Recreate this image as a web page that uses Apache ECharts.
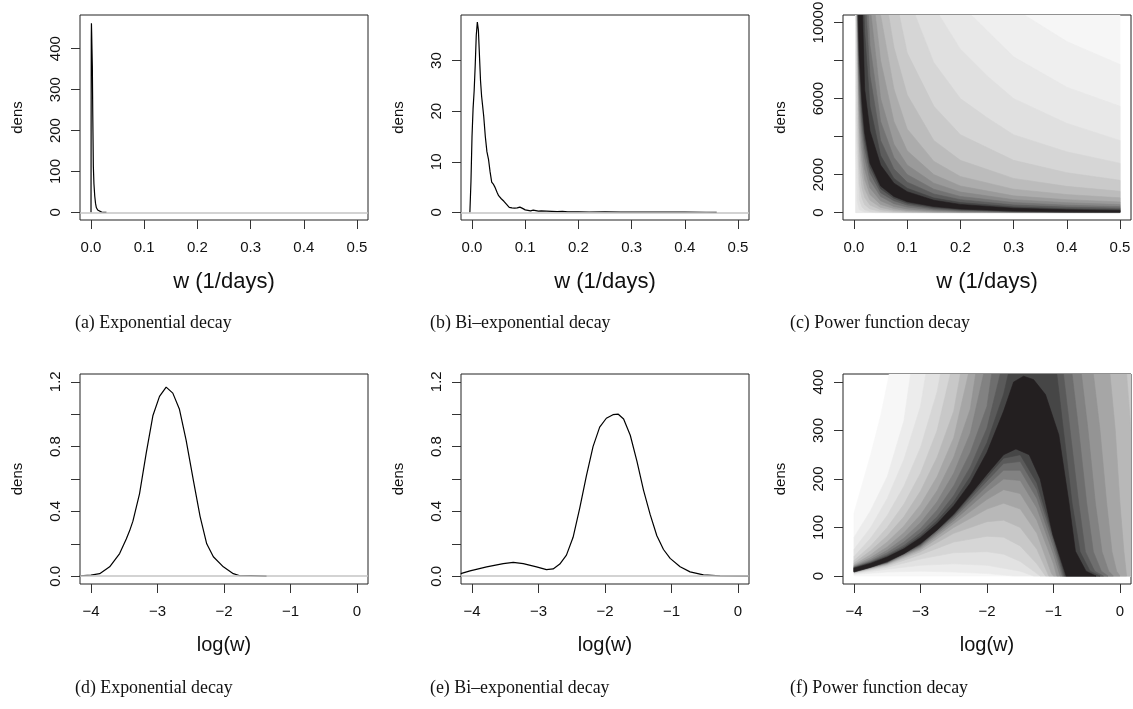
<!DOCTYPE html>
<html>
<head>
<meta charset="utf-8">
<title>Decay weight densities</title>
<script src="https://cdn.jsdelivr.net/npm/echarts@6/dist/echarts.min.js"></script>
<style>
  html, body { margin: 0; padding: 0; background: #fff; }
  #chart { width: 1133px; height: 709px; }
</style>
</head>
<body>
<div id="chart"></div>
<script>
// (a) exponential decay: density of w
const expW = [0, 0.0002, 0.0005, 0.0008, 0.0012, 0.0018, 0.0025, 0.0033, 0.0044, 0.0055, 0.007, 0.0085, 0.01, 0.0125, 0.015, 0.02, 0.024, 0.029]
const expDens = [0, 200, 420, 462, 440, 400, 357, 240, 112, 70, 40, 22, 12, 6, 3, 0.8, 0.3, 0]

// (b) bi-exponential decay: density of w
const biW = [-0.004, -0.002, 0, 0.002, 0.004, 0.006, 0.008, 0.01, 0.012, 0.014, 0.016, 0.018, 0.02, 0.022, 0.025, 0.028, 0.031, 0.034, 0.037, 0.04, 0.043, 0.047, 0.05, 0.055, 0.06, 0.065, 0.07, 0.075, 0.08, 0.085, 0.09, 0.095, 0.1, 0.105, 0.11, 0.115, 0.12, 0.125, 0.13, 0.14, 0.15, 0.16, 0.17, 0.18, 0.2, 0.22, 0.25, 0.28, 0.3, 0.35, 0.4, 0.44, 0.46]
const biDens = [0, 6, 15, 20.5, 24, 29, 35, 37.6, 36, 31, 26, 23, 21, 19, 15, 12, 10.5, 8, 6, 5.6, 5, 4, 3.3, 2.7, 2.2, 1.6, 1.0, 0.9, 0.85, 0.9, 1.05, 0.8, 0.5, 0.4, 0.3, 0.45, 0.35, 0.25, 0.3, 0.25, 0.2, 0.15, 0.2, 0.12, 0.1, 0.08, 0.12, 0.06, 0.08, 0.05, 0.04, 0.03, 0.02]

// (d) exponential decay: density of log(w)
const logExpW = [-4.17, -4.0, -3.87, -3.72, -3.57, -3.47, -3.42, -3.37, -3.27, -3.17, -3.07, -2.97, -2.87, -2.77, -2.67, -2.57, -2.46, -2.36, -2.26, -2.16, -2.01, -1.86, -1.76, -1.6, -1.36]
const logExpDens = [0.003, 0.007, 0.016, 0.058, 0.14, 0.23, 0.28, 0.34, 0.51, 0.76, 0.99, 1.11, 1.167, 1.13, 1.03, 0.84, 0.59, 0.37, 0.2, 0.12, 0.058, 0.016, 0.003, 0.004, 0]

// (e) bi-exponential decay: density of log(w)
const logBiW = [-4.17, -4.03, -3.78, -3.53, -3.38, -3.23, -3.03, -2.88, -2.78, -2.68, -2.58, -2.48, -2.38, -2.28, -2.18, -2.08, -1.98, -1.88, -1.8, -1.72, -1.62, -1.52, -1.42, -1.32, -1.22, -1.12, -1.02, -0.87, -0.72, -0.52, -0.27, 0.166]
const logBiDens = [0.016, 0.033, 0.058, 0.078, 0.085, 0.078, 0.058, 0.041, 0.045, 0.075, 0.13, 0.24, 0.42, 0.62, 0.8, 0.92, 0.975, 0.997, 1.0, 0.97, 0.87, 0.71, 0.53, 0.38, 0.25, 0.165, 0.11, 0.058, 0.027, 0.008, 0.002, 0]

// (c) power function decay: filled density levels, lightest first, core last
const powerShades = ['#f6f6f6', '#efefef', '#e8e8e8', '#e0e0e0', '#d6d6d6', '#cacaca', '#bcbcbc', '#acacac', '#9a9a9a', '#888888', '#737373', '#5c5c5c', '#444444', '#231f20']
const powerUpper = [
  [[0.003, 10400], [0.5, 10400]],
  [[0.32, 10400], [0.4, 9000], [0.5, 7800]],
  [[0.22, 10400], [0.3, 8200], [0.4, 6600], [0.5, 5600]],
  [[0.16, 10400], [0.2, 8600], [0.25, 7200], [0.3, 6000], [0.4, 4700], [0.5, 3800]],
  [[0.115, 10400], [0.15, 7900], [0.2, 6000], [0.25, 5000], [0.3, 4100], [0.4, 3200], [0.5, 2600]],
  [[0.085, 10400], [0.1, 8400], [0.15, 5600], [0.2, 4100], [0.3, 2750], [0.4, 2100], [0.5, 1700]],
  [[0.065, 10400], [0.075, 8700], [0.1, 6200], [0.15, 3800], [0.2, 2750], [0.3, 1800], [0.4, 1380], [0.5, 1120]],
  [[0.05, 10400], [0.075, 6500], [0.1, 4400], [0.15, 2700], [0.2, 1900], [0.3, 1230], [0.4, 950], [0.5, 780]],
  [[0.04, 10400], [0.05, 8000], [0.075, 4800], [0.1, 3250], [0.15, 2000], [0.2, 1400], [0.3, 880], [0.4, 680], [0.5, 560]],
  [[0.032, 10400], [0.05, 6000], [0.075, 3600], [0.1, 2500], [0.15, 1550], [0.2, 1080], [0.3, 680], [0.4, 520], [0.5, 420]],
  [[0.027, 10400], [0.03, 8800], [0.05, 4800], [0.075, 2900], [0.1, 2000], [0.15, 1230], [0.2, 850], [0.3, 530], [0.4, 390], [0.5, 315]],
  [[0.023, 10400], [0.03, 7200], [0.05, 3800], [0.075, 2300], [0.1, 1600], [0.15, 980], [0.2, 680], [0.3, 400], [0.4, 290], [0.5, 235]],
  [[0.019, 10400], [0.02, 9500], [0.03, 5600], [0.05, 3000], [0.075, 1800], [0.1, 1280], [0.15, 770], [0.2, 530], [0.3, 300], [0.4, 200], [0.5, 160]],
  [[0.016, 10400], [0.02, 6500], [0.03, 4300], [0.05, 2500], [0.075, 1550], [0.1, 1100], [0.15, 650], [0.2, 430], [0.3, 230], [0.4, 150], [0.5, 110]]
]
const powerLower = [
  [[0.003, 10400], [0.003, 0], [0.5, 0]],
  [[0.0032, 10400], [0.0032, 0], [0.5, 0]],
  [[0.0035, 10400], [0.0035, 0], [0.5, 0]],
  [[0.0038, 10400], [0.004, 3000], [0.006, 600], [0.01, 150], [0.02, 30], [0.04, 0], [0.5, 0]],
  [[0.004, 10400], [0.005, 4000], [0.01, 700], [0.015, 300], [0.02, 150], [0.03, 60], [0.05, 15], [0.07, 0], [0.5, 0]],
  [[0.0045, 10400], [0.006, 5000], [0.01, 1500], [0.015, 750], [0.02, 420], [0.03, 190], [0.05, 60], [0.075, 20], [0.1, 5], [0.15, 0], [0.5, 0]],
  [[0.005, 10400], [0.01, 2500], [0.015, 1300], [0.02, 800], [0.03, 400], [0.05, 150], [0.075, 60], [0.1, 25], [0.15, 8], [0.2, 2], [0.3, 0], [0.5, 0]],
  [[0.0055, 10400], [0.01, 3500], [0.015, 2000], [0.02, 1250], [0.03, 650], [0.05, 270], [0.075, 120], [0.1, 60], [0.15, 22], [0.2, 10], [0.3, 3], [0.5, 0]],
  [[0.006, 10400], [0.01, 4500], [0.015, 2700], [0.02, 1750], [0.03, 950], [0.05, 430], [0.075, 210], [0.1, 110], [0.15, 45], [0.2, 22], [0.3, 7], [0.5, 2]],
  [[0.0065, 10400], [0.01, 5400], [0.015, 3400], [0.02, 2300], [0.03, 1300], [0.05, 620], [0.075, 320], [0.1, 190], [0.15, 85], [0.2, 45], [0.3, 15], [0.4, 7], [0.5, 4]],
  [[0.007, 10400], [0.01, 6200], [0.015, 4100], [0.02, 2900], [0.03, 1700], [0.05, 850], [0.075, 470], [0.1, 290], [0.15, 140], [0.2, 75], [0.3, 28], [0.4, 13], [0.5, 8]],
  [[0.0073, 10400], [0.01, 7000], [0.015, 4700], [0.02, 3400], [0.03, 2100], [0.05, 1050], [0.075, 620], [0.1, 400], [0.15, 200], [0.2, 115], [0.3, 45], [0.4, 22], [0.5, 13]],
  [[0.0076, 10400], [0.01, 7700], [0.015, 5300], [0.02, 3850], [0.03, 2400], [0.05, 1250], [0.075, 750], [0.1, 490], [0.15, 265], [0.2, 155], [0.3, 62], [0.4, 30], [0.5, 18]],
  [[0.008, 10400], [0.01, 8300], [0.015, 5800], [0.02, 4200], [0.03, 2600], [0.05, 1400], [0.075, 850], [0.1, 570], [0.15, 320], [0.2, 190], [0.3, 80], [0.4, 40], [0.5, 25]]
]

// (f) power function decay on log(w): filled density levels, lightest first, core last
const logPowerShades = ['#f7f7f7', '#ececec', '#e2e2e2', '#d6d6d6', '#c8c8c8', '#b8b8b8', '#a6a6a6', '#949494', '#828282', '#6e6e6e', '#5a5a5a', '#464646', '#231f20']
const logPowerUpper = [
  [[-4, 130], [-3.75, 250], [-3.6, 330], [-3.47, 416.5], [0.166, 416.5]],
  [[-4, 80], [-3.75, 135], [-3.5, 205], [-3.25, 320], [-3.15, 416.5], [0.166, 416.5]],
  [[-4, 55], [-3.75, 100], [-3.5, 160], [-3.25, 240], [-3, 350], [-2.92, 416.5], [0.166, 416.5]],
  [[-4, 40], [-3.75, 78], [-3.5, 125], [-3.25, 185], [-3, 265], [-2.75, 380], [-2.7, 416.5], [0.166, 416.5]],
  [[-4, 32], [-3.75, 62], [-3.5, 100], [-3.25, 148], [-3, 212], [-2.75, 300], [-2.55, 416.5], [0.166, 416.5]],
  [[-4, 27], [-3.75, 52], [-3.5, 83], [-3.25, 122], [-3, 175], [-2.75, 245], [-2.5, 340], [-2.4, 416.5], [0.1, 416.5], [0.166, 300]],
  [[-4, 23], [-3.75, 44], [-3.5, 70], [-3.25, 103], [-3, 147], [-2.75, 205], [-2.5, 285], [-2.28, 416.5], [-0.15, 416.5], [-0.07, 300], [0, 150], [0.06, 50], [0.1, 0]],
  [[-4, 21], [-3.75, 38], [-3.5, 60], [-3.25, 89], [-3, 126], [-2.75, 176], [-2.5, 245], [-2.25, 345], [-2.17, 416.5], [-0.4, 416.5], [-0.3, 300], [-0.2, 150], [-0.12, 50], [-0.05, 10], [0, 0]],
  [[-4, 19.5], [-3.75, 34], [-3.5, 53], [-3.25, 78], [-3, 110], [-2.75, 153], [-2.5, 212], [-2.25, 295], [-2.05, 416.5], [-0.58, 416.5], [-0.48, 300], [-0.37, 150], [-0.27, 50], [-0.17, 10], [-0.1, 0]],
  [[-4, 18.5], [-3.75, 31], [-3.5, 48], [-3.25, 70], [-3, 98], [-2.75, 136], [-2.5, 186], [-2.25, 255], [-2, 350], [-1.93, 416.5], [-0.72, 416.5], [-0.62, 300], [-0.5, 150], [-0.4, 50], [-0.28, 10], [-0.18, 0]],
  [[-4, 17.5], [-3.75, 29], [-3.5, 44], [-3.25, 63], [-3, 89], [-2.75, 122], [-2.5, 166], [-2.25, 225], [-2, 305], [-1.8, 416.5], [-0.85, 416.5], [-0.75, 300], [-0.62, 150], [-0.52, 50], [-0.38, 10], [-0.25, 0]],
  [[-4, 17], [-3.75, 27.5], [-3.5, 41], [-3.25, 59], [-3, 83], [-2.75, 114], [-2.5, 153], [-2.25, 205], [-2, 275], [-1.75, 375], [-1.68, 416.5], [-0.95, 416.5], [-0.85, 300], [-0.72, 150], [-0.6, 50], [-0.45, 10], [-0.3, 0]],
  [[-4, 16], [-3.75, 26], [-3.5, 39], [-3.25, 56], [-3, 79], [-2.75, 108], [-2.5, 145], [-2.25, 192], [-2, 255], [-1.75, 340], [-1.6, 400], [-1.45, 412], [-1.3, 405], [-1.12, 374], [-0.92, 291], [-0.77, 154], [-0.67, 51], [-0.51, 10], [-0.36, 0]]
]
const logPowerLower = [
  [[-4, 0], [0.166, 0]],
  [[-4, 3], [-3.5, 8], [-3, 10], [-2.5, 8], [-2, 5], [-1.6, 0], [0.166, 0]],
  [[-4, 5], [-3.5, 14], [-3, 22], [-2.5, 25], [-2, 22], [-1.5, 10], [-1.3, 0], [0.166, 0]],
  [[-4, 6], [-3.5, 18], [-3, 35], [-2.5, 48], [-2, 50], [-1.75, 45], [-1.5, 30], [-1.25, 5], [-1.2, 0], [0.166, 0]],
  [[-4, 7], [-3.5, 21], [-3, 44], [-2.5, 70], [-2, 82], [-1.75, 80], [-1.5, 62], [-1.25, 25], [-1.12, 0], [0.166, 0]],
  [[-4, 7.5], [-3.5, 23], [-3, 50], [-2.5, 88], [-2, 112], [-1.75, 115], [-1.5, 100], [-1.25, 55], [-1.07, 0], [0.166, 0]],
  [[-4, 8], [-3.5, 24.5], [-3, 54], [-2.5, 100], [-2, 138], [-1.75, 150], [-1.5, 138], [-1.25, 88], [-1.03, 5], [-1.0, 0], [0.1, 0]],
  [[-4, 8], [-3.5, 26], [-3, 57], [-2.5, 108], [-2, 158], [-1.75, 178], [-1.5, 170], [-1.25, 115], [-1, 25], [-0.95, 0], [0, 0]],
  [[-4, 8.5], [-3.5, 27], [-3, 60], [-2.5, 114], [-2, 174], [-1.75, 200], [-1.5, 197], [-1.25, 140], [-1, 45], [-0.9, 0], [-0.1, 0]],
  [[-4, 8.5], [-3.5, 28], [-3, 62], [-2.5, 119], [-2, 186], [-1.75, 218], [-1.5, 218], [-1.25, 160], [-1, 60], [-0.87, 0], [-0.18, 0]],
  [[-4, 8.5], [-3.5, 28.5], [-3, 64], [-2.5, 123], [-2, 196], [-1.75, 232], [-1.5, 236], [-1.25, 178], [-1, 72], [-0.85, 0], [-0.25, 0]],
  [[-4, 9], [-3.5, 29], [-3, 65.5], [-2.5, 126], [-2, 204], [-1.75, 243], [-1.5, 250], [-1.25, 192], [-1, 80], [-0.83, 0], [-0.3, 0]],
  [[-4, 9], [-3.75, 18], [-3.5, 30], [-3.25, 46], [-3, 67], [-2.75, 95], [-2.5, 128], [-2.25, 168], [-2, 210], [-1.75, 250], [-1.565, 262], [-1.365, 250], [-1.2, 200], [-1.01, 85], [-0.81, 0], [-0.36, 0]]
]

// axis ticks
const wTicks = [0, 0.1, 0.2, 0.3, 0.4, 0.5]
const logTicks = [-4, -3, -2, -1, 0]
const expDensTicks = [0, 100, 200, 300, 400]
const biDensTicks = [0, 10, 20, 30]
const powerDensTicks = [0, 2000, 4000, 6000, 8000, 10000]
const powerDensLabels = [0, 2000, 6000, 10000]
const logDensTicks = [0, 0.2, 0.4, 0.6, 0.8, 1.0, 1.2]
const logDensLabels = [0, 0.4, 0.8, 1.2]
const logPowerDensTicks = [0, 100, 200, 300, 400]

const captions = ['(a) Exponential decay', '(b) Bi\u2013exponential decay', '(c) Power function decay',
  '(d) Exponential decay', '(e) Bi\u2013exponential decay', '(f) Power function decay']

const sans = 'Liberation Sans, Arial, Helvetica, sans-serif'
const serif = 'Liberation Serif, Times New Roman, serif'
const colLeft = [80, 461, 843]
const rowTop = [15, 374]
const rowHeight = [205, 210]

const oneDecimal = v => v.toFixed(1)
const signed = v => (v < 0 ? '\u2212' + Math.abs(v) : String(v))
const plain = v => String(v)

function makeX(i, min, max, ticks, fmt, name, nameSize) {
  return {
    type: 'value', gridIndex: i, min: min, max: max,
    axisLine: { show: false, onZero: false },
    axisTick: { show: true, length: 9, customValues: ticks, lineStyle: { color: '#333', width: 1 } },
    axisLabel: { customValues: ticks, formatter: fmt, margin: 20, color: '#111', fontFamily: sans, fontSize: 15 },
    splitLine: { show: false },
    name: name, nameLocation: 'middle', nameGap: 51,
    nameTextStyle: { color: '#111', fontFamily: sans, fontSize: nameSize }
  }
}

function makeY(i, min, max, ticks, labels, fmt) {
  return {
    type: 'value', gridIndex: i, min: min, max: max,
    axisLine: { show: false, onZero: false },
    axisTick: { show: true, length: 9, customValues: ticks, lineStyle: { color: '#333', width: 1 } },
    axisLabel: { customValues: labels, formatter: fmt, rotate: 90, margin: 17, color: '#111', fontFamily: sans, fontSize: 15 },
    splitLine: { show: false },
    name: 'dens', nameLocation: 'middle', nameGap: 55, nameRotate: 90,
    nameTextStyle: { color: '#111', fontFamily: sans, fontSize: 15 }
  }
}

function densityLine(i, xs, ys) {
  return {
    type: 'line', xAxisIndex: i, yAxisIndex: i,
    data: xs.map((x, k) => [x, ys[k]]),
    symbol: 'none', smooth: false, silent: true,
    lineStyle: { color: '#000', width: 1.2 },
    markLine: {
      silent: true, symbol: 'none', label: { show: false },
      lineStyle: { color: '#c4c4c4', width: 1.5, type: 'solid' },
      data: [{ yAxis: 0 }]
    }
  }
}

// one polygon per density level: upper edge left to right, then lower edge back
function shadedLevels(i, upper, lower, shades) {
  return {
    type: 'custom', xAxisIndex: i, yAxisIndex: i, clip: true, silent: true,
    data: shades.map((c, k) => [k]),
    renderItem: function (params, api) {
      const k = params.dataIndex
      const ring = upper[k].concat(lower[k].slice().reverse())
      return {
        type: 'polygon',
        shape: { points: ring.map(p => api.coord(p)) },
        style: { fill: shades[k], stroke: shades[k], lineWidth: 0.6 }
      }
    }
  }
}

const grids = []
for (let r = 0; r < 2; r++) {
  for (let c = 0; c < 3; c++) {
    grids.push({
      left: colLeft[c], top: rowTop[r], width: 288, height: rowHeight[r],
      show: true, borderColor: '#222', borderWidth: 1, backgroundColor: 'transparent',
      outerBoundsMode: 'none'
    })
  }
}

const chart = echarts.init(document.getElementById('chart'), null, { renderer: 'canvas' })

chart.setOption({
  backgroundColor: '#ffffff',
  animation: false,
  grid: grids,
  xAxis: [
    makeX(0, -0.0207, 0.5207, wTicks, oneDecimal, 'w (1/days)', 22),
    makeX(1, -0.0207, 0.5207, wTicks, oneDecimal, 'w (1/days)', 22),
    makeX(2, -0.0207, 0.5207, wTicks, oneDecimal, 'w (1/days)', 22),
    makeX(3, -4.166, 0.166, logTicks, signed, 'log(w)', 20),
    makeX(4, -4.166, 0.166, logTicks, signed, 'log(w)', 20),
    makeX(5, -4.166, 0.166, logTicks, signed, 'log(w)', 20)
  ],
  yAxis: [
    makeY(0, -18.5, 482.3, expDensTicks, expDensTicks, plain),
    makeY(1, -1.5, 39.0, biDensTicks, biDensTicks, plain),
    makeY(2, -390, 10400, powerDensTicks, powerDensLabels, plain),
    makeY(3, -0.048, 1.248, logDensTicks, logDensLabels, oneDecimal),
    makeY(4, -0.048, 1.248, logDensTicks, logDensLabels, oneDecimal),
    makeY(5, -16.5, 416.5, logPowerDensTicks, logPowerDensTicks, plain)
  ],
  series: [
    densityLine(0, expW, expDens),
    densityLine(1, biW, biDens),
    shadedLevels(2, powerUpper, powerLower, powerShades),
    densityLine(3, logExpW, logExpDens),
    densityLine(4, logBiW, logBiDens),
    shadedLevels(5, logPowerUpper, logPowerLower, logPowerShades)
  ],
  graphic: captions.map((t, k) => ({
    type: 'text',
    x: [75, 430, 790][k % 3],
    y: [323, 688][Math.floor(k / 3)],
    scaleX: 0.94,
    silent: true,
    style: {
      text: t, fill: '#111', font: '19px ' + serif,
      textAlign: 'left', textVerticalAlign: 'middle'
    }
  }))
})
</script>
</body>
</html>
